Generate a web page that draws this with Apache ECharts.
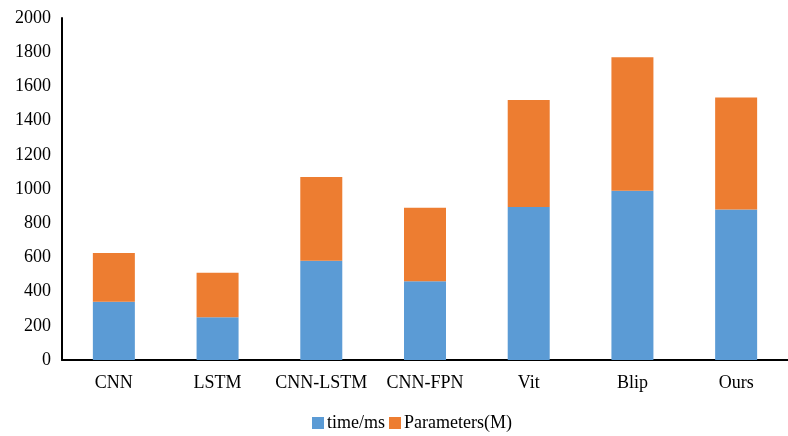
<!DOCTYPE html>
<html>
<head>
<meta charset="utf-8">
<script src="https://cdn.jsdelivr.net/npm/echarts@6/dist/echarts.min.js"></script>
<style>
  html, body { margin: 0; padding: 0; background: #fff; }
  #chart { width: 788px; height: 436px; }
</style>
</head>
<body>
<div id="chart"></div>
<script>
// Model comparison: inference time and parameter count, stacked
const categories = ['CNN', 'LSTM', 'CNN-LSTM', 'CNN-FPN', 'Vit', 'Blip', 'Ours'];
const timeMs = [340, 250, 580, 460, 895, 990, 880];
const paramsM = [285, 260, 490, 430, 625, 780, 655];
const yTicks = [0, 200, 400, 600, 800, 1000, 1200, 1400, 1600, 1800, 2000];

const font = '"Liberation Serif", "DejaVu Serif", serif';

const chart = echarts.init(document.getElementById('chart'), null, { renderer: 'canvas' });
chart.setOption({
  animation: false,
  textStyle: { fontFamily: font },
  grid: { left: 62, top: 18, width: 738, height: 342, containLabel: false },
  legend: {
    top: 409,
    left: 307,
    itemWidth: 12,
    itemHeight: 12,
    itemGap: 4,
    icon: 'rect',
    textStyle: { fontFamily: font, fontSize: 18, color: '#000', padding: [0, 0, 0, -2] },
    data: ['time/ms', 'Parameters(M)']
  },
  xAxis: {
    type: 'category',
    data: categories,
    axisLine: { lineStyle: { color: '#000', width: 2 } },
    axisTick: { show: false },
    axisLabel: { color: '#000', fontFamily: font, fontSize: 18, margin: 14, interval: 0 }
  },
  yAxis: {
    type: 'value',
    min: yTicks[0],
    max: yTicks[yTicks.length - 1],
    interval: 200,
    splitLine: { show: false },
    axisLine: { show: true, lineStyle: { color: '#000', width: 2 } },
    axisTick: { show: false },
    axisLabel: {
      color: '#000', fontFamily: font, fontSize: 18, margin: 11,
      formatter: (v) => String(v)
    }
  },
  series: [
    {
      name: 'time/ms',
      type: 'bar',
      stack: 'total',
      barWidth: 42,
      itemStyle: { color: '#5B9BD5' },
      data: timeMs
    },
    {
      name: 'Parameters(M)',
      type: 'bar',
      stack: 'total',
      barWidth: 42,
      itemStyle: { color: '#ED7D31' },
      data: paramsM
    }
  ]
});
</script>
</body>
</html>
